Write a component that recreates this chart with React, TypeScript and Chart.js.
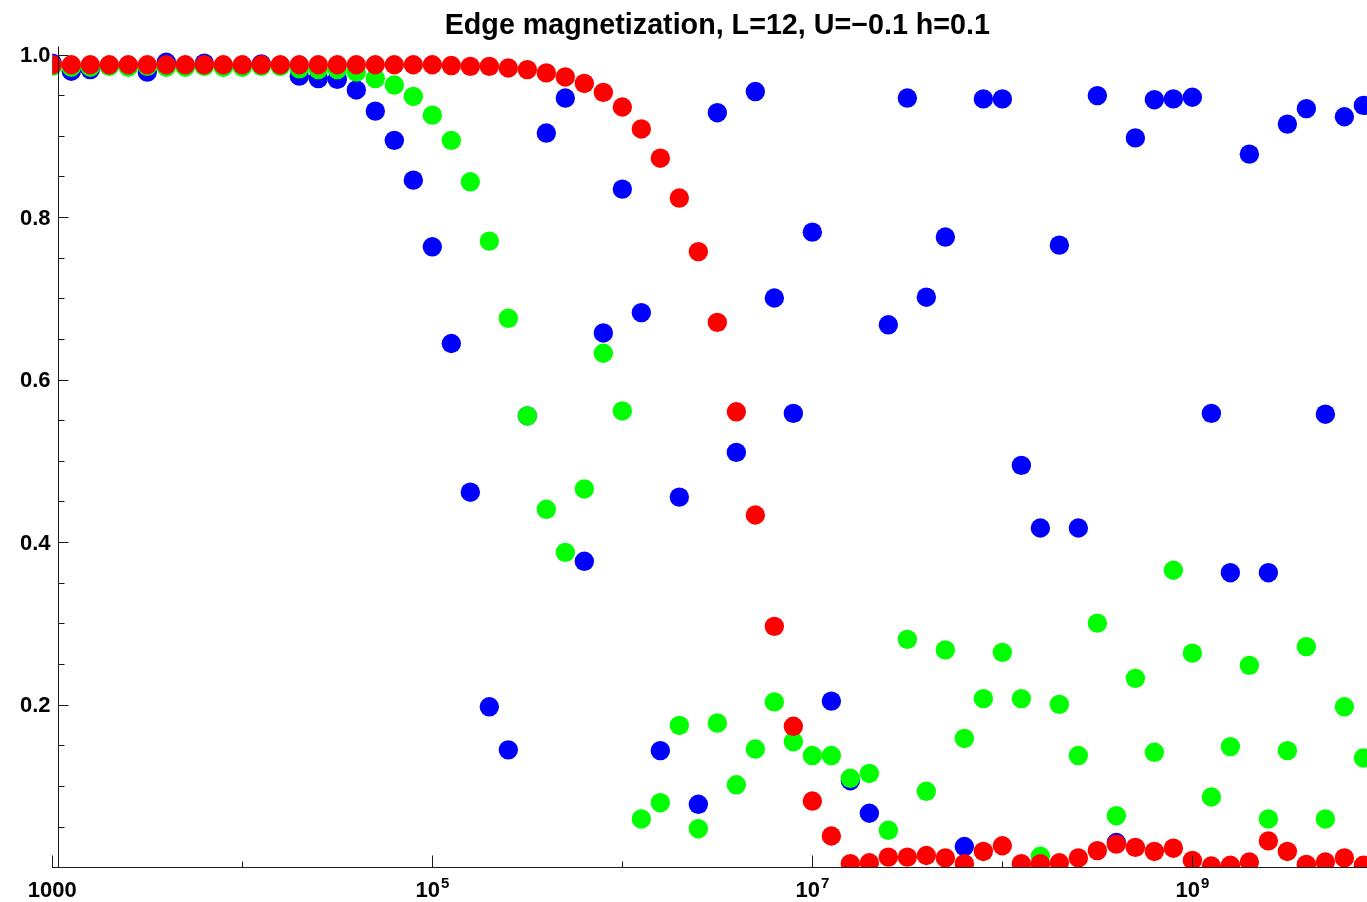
import React, { useEffect, useRef } from 'react';
import { Chart, registerables } from 'chart.js';

Chart.register(...registerables);

const TITLE = 'Edge magnetization, L=12, U=\u22120.1 h=0.1';

// log10 of the sampled times (0.1-decade grid from 10^3 upward)
const logTime = [
  3.0, 3.1, 3.2, 3.3, 3.4, 3.5, 3.6, 3.7, 3.8, 3.9,
  4.0, 4.1, 4.2, 4.3, 4.4, 4.5, 4.6, 4.7, 4.8, 4.9,
  5.0, 5.1, 5.2, 5.3, 5.4, 5.5, 5.6, 5.7, 5.8, 5.9,
  6.0, 6.1, 6.2, 6.3, 6.4, 6.5, 6.6, 6.7, 6.8, 6.9,
  7.0, 7.1, 7.2, 7.3, 7.4, 7.5, 7.6, 7.7, 7.8, 7.9,
  8.0, 8.1, 8.2, 8.3, 8.4, 8.5, 8.6, 8.7, 8.8, 8.9,
  9.0, 9.1, 9.2, 9.3, 9.4, 9.5, 9.6, 9.7, 9.8, 9.9,
];

const blueSeries = [
  0.990, 0.980, 0.982, 0.987, 0.987, 0.979, 0.991, 0.987, 0.990, 0.986,
  0.987, 0.989, 0.987, 0.974, 0.971, 0.970, 0.957, 0.931, 0.895, 0.846,
  0.764, 0.645, 0.462, 0.198, 0.145, 0.556, 0.904, 0.947, 0.377, 0.658,
  0.835, 0.683, 0.144, 0.456, 0.078, 0.929, 0.511, 0.955, 0.701, 0.559,
  0.782, 0.205, 0.107, 0.067, 0.668, 0.947, 0.702, 0.776, 0.026, 0.946,
  0.946, 0.495, 0.418, 0.766, 0.418, 0.950, 0.031, 0.898, 0.945, 0.946,
  0.948, 0.559, 0.363, 0.878, 0.363, 0.915, 0.934, 0.558, 0.924, 0.938,
];

const greenSeries = [
  0.986, 0.985, 0.985, 0.986, 0.985, 0.986, 0.985, 0.985, 0.986, 0.985,
  0.985, 0.986, 0.986, 0.983, 0.982, 0.982, 0.979, 0.971, 0.963, 0.949,
  0.926, 0.895, 0.844, 0.771, 0.676, 0.556, 0.441, 0.388, 0.466, 0.633,
  0.562, 0.060, 0.080, 0.175, 0.048, 0.178, 0.102, 0.146, 0.204, 0.155,
  0.138, 0.138, 0.110, 0.116, 0.046, 0.281, 0.094, 0.268, 0.159, 0.208,
  0.265, 0.208, 0.014, 0.201, 0.138, 0.301, 0.064, 0.233, 0.142, 0.366,
  0.264, 0.087, 0.149, 0.249, 0.060, 0.144, 0.272, 0.060, 0.198, 0.135,
];

const redSeries = [
  0.988, 0.988, 0.988, 0.988, 0.988, 0.988, 0.988, 0.988, 0.988, 0.988,
  0.988, 0.988, 0.988, 0.988, 0.988, 0.988, 0.988, 0.988, 0.988, 0.988,
  0.988, 0.987, 0.986, 0.986, 0.984, 0.982, 0.978, 0.973, 0.965, 0.954,
  0.936, 0.909, 0.873, 0.824, 0.758, 0.671, 0.561, 0.434, 0.297, 0.174,
  0.082, 0.039, 0.005, 0.006, 0.013, 0.013, 0.015, 0.012, 0.005, 0.020,
  0.027, 0.005, 0.005, 0.006, 0.012, 0.021, 0.029, 0.025, 0.020, 0.024,
  0.009, 0.002, 0.003, 0.007, 0.033, 0.020, 0.004, 0.007, 0.012, 0.003,
];

const yMajorTicks = [0.2, 0.4, 0.6, 0.8, 1.0];
const yMajorLabels = ['0.2', '0.4', '0.6', '0.8', '1.0'];
const yMinorTicks = [
  0.05, 0.1, 0.15, 0.25, 0.3, 0.35, 0.45, 0.5, 0.55,
  0.65, 0.7, 0.75, 0.85, 0.9, 0.95,
];

const xMajorTicks = [1e3, 1e5, 1e7, 1e9];
const xMajorBase = ['1000', '10', '10', '10'];
const xMajorExp = ['', '5', '7', '9'];
const xMinorTicks = [1e4, 1e6, 1e8];

const X_MIN = 1e3;
const X_MAX = 8.3e9;
const X_FULL_RANGE_END = 1e10;
const Y_AXIS_AT = 1081;
const Y_AXIS_TOP = 1.0105;

const FONT_FAMILY = '"Liberation Sans", Arial, sans-serif';

const toPoints = (series: number[]) =>
  series.map((v, i) => ({ x: Math.pow(10, logTime[i]), y: v }));

const axesPlugin = {
  id: 'frameAxes',
  afterDatasetsDraw(chart: any) {
    const { ctx, chartArea } = chart;
    const xs = chart.scales.x;
    const ys = chart.scales.y;
    ctx.save();

    const y0 = Math.floor(ys.getPixelForValue(0)) + 0.5;
    const yTop = ys.getPixelForValue(Y_AXIS_TOP);
    const xAx = Math.floor(xs.getPixelForValue(Y_AXIS_AT)) + 0.5;

    ctx.strokeStyle = '#1a1a1a';
    ctx.lineWidth = 1;

    // horizontal axis
    ctx.beginPath();
    ctx.moveTo(Math.floor(chartArea.left), y0);
    ctx.lineTo(chart.width, y0);
    ctx.stroke();

    // vertical axis
    ctx.beginPath();
    ctx.moveTo(xAx, yTop);
    ctx.lineTo(xAx, y0);
    ctx.stroke();

    // x ticks
    xMajorTicks.forEach((v) => {
      const px = Math.floor(xs.getPixelForValue(v)) + 0.5;
      ctx.beginPath();
      ctx.moveTo(px, y0);
      ctx.lineTo(px, y0 - 12);
      ctx.stroke();
    });
    xMinorTicks.forEach((v) => {
      const px = Math.floor(xs.getPixelForValue(v)) + 0.5;
      ctx.beginPath();
      ctx.moveTo(px, y0);
      ctx.lineTo(px, y0 - 6);
      ctx.stroke();
    });

    // y ticks
    yMajorTicks.forEach((v) => {
      const py = Math.floor(ys.getPixelForValue(v)) + 0.5;
      ctx.beginPath();
      ctx.moveTo(xAx, py);
      ctx.lineTo(xAx + 10, py);
      ctx.stroke();
    });
    yMinorTicks.forEach((v) => {
      const py = Math.floor(ys.getPixelForValue(v)) + 0.5;
      ctx.beginPath();
      ctx.moveTo(xAx, py);
      ctx.lineTo(xAx + 6, py);
      ctx.stroke();
    });

    ctx.fillStyle = '#000';

    // y tick labels
    ctx.font = `bold 22px ${FONT_FAMILY}`;
    ctx.textAlign = 'right';
    ctx.textBaseline = 'middle';
    yMajorTicks.forEach((v, i) => {
      const py = ys.getPixelForValue(v);
      ctx.fillText(yMajorLabels[i], xAx - 8, py + 1);
    });

    // x tick labels (with superscript exponents)
    const baseFont = `bold 22px ${FONT_FAMILY}`;
    const expFont = `bold 15px ${FONT_FAMILY}`;
    ctx.textBaseline = 'alphabetic';
    ctx.textAlign = 'left';
    const labelBaseline = y0 + 29.5;
    xMajorTicks.forEach((v, i) => {
      const px = xs.getPixelForValue(v);
      ctx.font = baseFont;
      const wBase = ctx.measureText(xMajorBase[i]).width;
      ctx.font = expFont;
      const wExp = xMajorExp[i] ? ctx.measureText(xMajorExp[i]).width + 1 : 0;
      const start = px - (wBase + wExp) / 2;
      ctx.font = baseFont;
      ctx.fillText(xMajorBase[i], start, labelBaseline);
      if (xMajorExp[i]) {
        ctx.font = expFont;
        ctx.fillText(xMajorExp[i], start + wBase + 1, labelBaseline - 9);
      }
    });

    // title, centred over the full time range
    const cx = (xs.getPixelForValue(X_MIN) + xs.getPixelForValue(X_FULL_RANGE_END)) / 2;
    ctx.font = `bold 28.7px ${FONT_FAMILY}`;
    ctx.textAlign = 'center';
    ctx.fillText(TITLE, cx, 34);

    ctx.restore();
  },
};

export default function App() {
  const canvasRef = useRef<HTMLCanvasElement | null>(null);

  useEffect(() => {
    const canvas = canvasRef.current;
    if (!canvas) return;
    const pointStyle = (color: string) => ({
      backgroundColor: color,
      borderColor: color,
      borderWidth: 0,
      pointRadius: 9.7,
      pointHoverRadius: 9.7,
      pointBorderWidth: 0,
      showLine: false,
      clip: { left: 0, top: false, right: false, bottom: 0 } as any,
    });

    const chart = new Chart(canvas, {
      type: 'scatter',
      data: {
        datasets: [
          { label: 'red', data: toPoints(redSeries), ...pointStyle('#ff0000') },
          { label: 'green', data: toPoints(greenSeries), ...pointStyle('#00ff00') },
          { label: 'blue', data: toPoints(blueSeries), ...pointStyle('#0000ff') },
        ],
      },
      options: {
        responsive: false,
        animation: false,
        devicePixelRatio: 1,
        events: [],
        layout: {
          autoPadding: false,
          padding: { left: 52.3, right: 0, top: 55, bottom: 34.3 },
        },
        plugins: {
          legend: { display: false },
          tooltip: { enabled: false },
          title: { display: false },
        },
        scales: {
          x: { type: 'logarithmic', min: X_MIN, max: X_MAX, display: false },
          y: { type: 'linear', min: 0, max: 1.0, display: false },
        },
      },
      plugins: [axesPlugin],
    });

    return () => chart.destroy();
  }, []);

  return (
    <div style={{ position: 'absolute', left: 0, top: 0, width: 1367, height: 902, background: '#fff' }}>
      <canvas ref={canvasRef} width={1367} height={902} style={{ display: 'block' }} />
    </div>
  );
}
